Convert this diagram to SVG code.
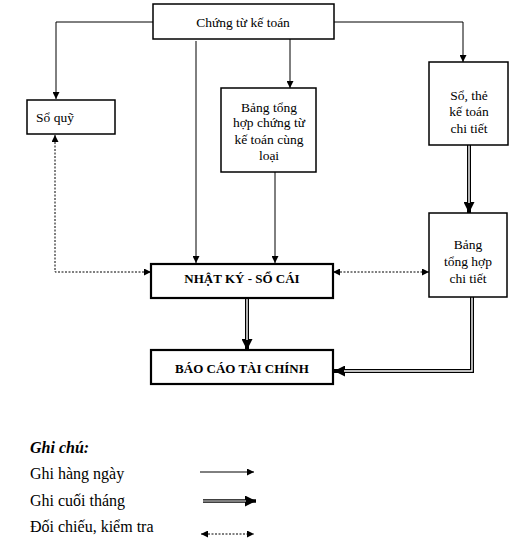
<svg xmlns="http://www.w3.org/2000/svg" width="523" height="547" viewBox="0 0 523 547">
<defs>
<style>
.box{fill:#fff;stroke:#000;stroke-width:1.5}
.bbox{fill:#fff;stroke:#000;stroke-width:2.2}
.t{font-family:"Liberation Serif","Times New Roman",serif;font-size:13.5px;fill:#000;text-anchor:middle}
.tb{font-family:"Liberation Serif","Times New Roman",serif;font-size:13px;font-weight:bold;fill:#000;text-anchor:middle}
.lg{font-family:"Liberation Serif","Times New Roman",serif;font-size:16px;fill:#000}
.thin{fill:none;stroke:#000;stroke-width:1}
.dot{fill:none;stroke:#000;stroke-width:1;stroke-dasharray:2,1.5}
.dbl{fill:none;stroke:#000;stroke-width:4}
.dbli{fill:none;stroke:#fff;stroke-width:1.4}
</style>
<marker id="a" viewBox="0 0 10 10" refX="10" refY="5" markerWidth="7" markerHeight="7" markerUnits="userSpaceOnUse" orient="auto"><path d="M0,0 L10,5 L0,10 Z" fill="#000"/></marker>
<marker id="as" viewBox="0 0 10 10" refX="0" refY="5" markerWidth="7" markerHeight="7" markerUnits="userSpaceOnUse" orient="auto"><path d="M10,0 L0,5 L10,10 Z" fill="#000"/></marker>
<marker id="ab" viewBox="0 0 10 10" refX="10" refY="5" markerWidth="11" markerHeight="11" markerUnits="userSpaceOnUse" orient="auto"><path d="M0,0 L10,5 L0,10 Z" fill="#000"/></marker>
</defs>
<rect width="523" height="547" fill="#fff"/>

<g id="connectors">
<path class="thin" d="M153,22 H56 V99" marker-end="url(#a)"/>
<path class="thin" d="M334,22 H463 V62" marker-end="url(#a)"/>
<path class="thin" d="M196,41 V263" marker-end="url(#a)"/>
<path class="thin" d="M290,39 V88" marker-end="url(#a)"/>
<path class="thin" d="M275,172 V263" marker-end="url(#a)"/>
<path class="dot" d="M55,135 V272 H151" marker-start="url(#as)" marker-end="url(#a)"/>
<path class="dot" d="M333,272 H429" marker-start="url(#as)" marker-end="url(#a)"/>
<path class="dbl" d="M469,145 V213" marker-end="url(#ab)"/>
<path class="dbli" d="M469,145 V203"/>
<path class="dbl" d="M247,298 V350" marker-end="url(#ab)"/>
<path class="dbli" d="M247,298 V340"/>
<path class="dbl" d="M472,297 V371 H334" marker-end="url(#ab)"/>
<path class="dbli" d="M472,297 V371 H344"/>
</g>

<g id="chung-tu">
<rect class="box" x="153" y="4" width="181" height="35"/>
<text class="t" x="243" y="27">Chứng từ kế toán</text>
</g>
<g id="so-quy">
<rect class="box" x="27" y="100" width="88" height="34"/>
<text class="t" x="36" y="122" style="text-anchor:start">Sổ quỹ</text>
</g>
<g id="bang-tong-hop-ct">
<rect class="box" x="221" y="88" width="95" height="84"/>
<text class="t" x="269" y="112">Bảng tổng</text>
<text class="t" x="269" y="127">hợp chứng từ</text>
<text class="t" x="269" y="144">kế toán cùng</text>
<text class="t" x="269" y="160">loại</text>
</g>
<g id="so-the">
<rect class="box" x="429" y="62" width="79" height="83"/>
<text class="t" x="469" y="100">Sổ, thẻ</text>
<text class="t" x="469" y="116">kế toán</text>
<text class="t" x="469" y="133">chi tiết</text>
</g>
<g id="bang-tong-hop-chi-tiet">
<rect class="box" x="429" y="213" width="78" height="84"/>
<text class="t" x="468" y="249">Bảng</text>
<text class="t" x="468" y="266">tổng hợp</text>
<text class="t" x="468" y="283">chi tiết</text>
</g>
<g id="nhat-ky">
<rect class="bbox" x="151" y="264" width="182" height="34"/>
<text class="tb" x="242" y="283">NHẬT KÝ - SỔ CÁI</text>
</g>
<g id="bao-cao">
<rect class="bbox" x="151" y="350" width="182" height="34"/>
<text class="tb" x="242" y="373">BÁO CÁO TÀI CHÍNH</text>
</g>

<g id="legend">
<text class="lg" x="30" y="453" style="font-weight:bold;font-style:italic">Ghi chú:</text>
<text class="lg" x="30" y="479">Ghi hàng ngày</text>
<text class="lg" x="30" y="506">Ghi cuối tháng</text>
<text class="lg" x="30" y="532">Đối chiếu, kiểm tra</text>
<path class="thin" d="M200,472 H254" marker-end="url(#a)"/>
<path class="dbl" d="M203,501 H256" marker-end="url(#ab)" style="stroke-width:3.5"/>
<path class="dbli" d="M203,501 H246" style="stroke-width:1"/>
<path class="dot" d="M201,534 H254" marker-start="url(#as)" marker-end="url(#a)"/>
</g>
</svg>
